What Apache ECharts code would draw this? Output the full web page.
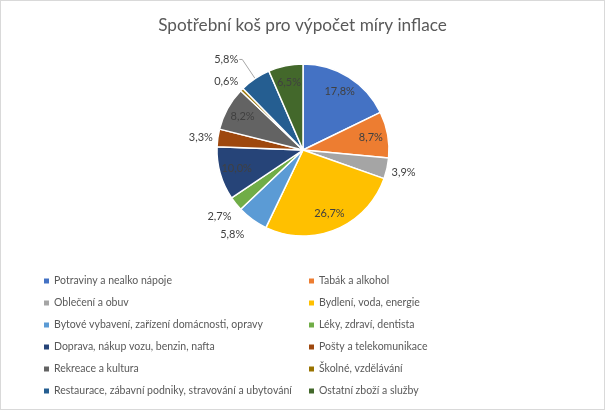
<!DOCTYPE html>
<html>
<head>
<meta charset="utf-8">
<script src="https://cdn.jsdelivr.net/npm/echarts@6/dist/echarts.min.js"></script>
<style>
    html, body { margin: 0; padding: 0; background: #fff; }
    #chart { width: 605px; height: 410px; box-sizing: border-box; border: 1px solid #d9d9d9; }
</style>
</head>
<body>
<div id="chart"></div>
<script>
// kategorie spotřebního koše
var categories = [
    'Potraviny a nealko nápoje',
    'Tabák a alkohol',
    'Oblečení a obuv',
    'Bydlení, voda, energie',
    'Bytové vybavení, zařízení domácnosti, opravy',
    'Léky, zdraví, dentista',
    'Doprava, nákup vozu, benzin, nafta',
    'Pošty a telekomunikace',
    'Rekreace a kultura',
    'Školné, vzdělávání',
    'Restaurace, zábavní podniky, stravování a ubytování',
    'Ostatní zboží a služby'
];
// podíly v %
var shares = [17.8, 8.7, 3.9, 26.7, 5.8, 2.7, 10.0, 3.3, 8.2, 0.6, 5.8, 6.5];

var colors = ['#4472C4', '#ED7D31', '#A5A5A5', '#FFC000', '#5B9BD5', '#70AD47',
    '#264478', '#9E480E', '#636363', '#997300', '#255E91', '#43682B'];

// popisky mimo výseč: index -> [length, length2, distance, show line]
var outsideLabels = {
    2: [19, 0, -14, false],
    4: [19, 0, -3, false],
    5: [21, 0, -12, false],
    7: [1, 0, 4, false],
    9: [12, 0, -5, false],
    10: [23, 3, 1, true]
};

var labelFont = {color: '#404040', fontSize: 11, fontFamily: 'Lato'};

function extend(a, b) {
    for (var k in b) a[k] = b[k];
    return a;
}

function fmt(p) {
    return p.value.toFixed(1).replace('.', ',') + '%';
}

var mainData = categories.map(function (name, i) {
    var item = {name: name, value: shares[i], itemStyle: {color: colors[i]}};
    var o = outsideLabels[i];
    if (o) {
        item.label = extend({show: true, position: 'outside', distanceToLabelLine: o[2], formatter: fmt}, labelFont);
        item.labelLine = {show: o[3], length: o[0], length2: o[1], smooth: false,
            lineStyle: {color: '#a6a6a6', width: 1}};
    }
    return item;
});

// průhledný prstenec jen kvůli popiskům uvnitř výsečí
var innerData = categories.map(function (name, i) {
    return {
        name: name, value: shares[i],
        label: extend({show: !outsideLabels[i], position: 'inside', formatter: fmt}, labelFont)
    };
});

var legendBase = {
    orient: 'vertical',
    top: 273,
    padding: 0,
    icon: 'rect',
    itemWidth: 5,
    itemHeight: 5,
    itemGap: 8,
    selectedMode: false,
    itemStyle: {borderWidth: 0},
    textStyle: {color: '#595959', fontSize: 10.5, fontFamily: 'Lato', lineHeight: 14}
};

var option = {
    animation: false,
    title: {
        text: 'Spotřební koš pro výpočet míry inflace',
        left: 'center',
        top: 11,
        textStyle: {color: '#595959', fontSize: 17.2, fontWeight: 'normal', fontFamily: 'Lato'}
    },
    legend: [
        extend(extend({}, legendBase), {left: 43, data: categories.filter(function (c, i) { return i % 2 === 0; })}),
        extend(extend({}, legendBase), {left: 308, data: categories.filter(function (c, i) { return i % 2 === 1; })})
    ],
    series: [{
        type: 'pie',
        center: [302, 149],
        radius: 86,
        startAngle: 90,
        clockwise: true,
        avoidLabelOverlap: false,
        silent: true,
        itemStyle: {borderColor: '#fff', borderWidth: 1.5},
        label: {show: false},
        labelLine: {show: false},
        data: mainData
    }, {
        type: 'pie',
        center: [302, 149],
        radius: [46, 86],
        startAngle: 90,
        clockwise: true,
        avoidLabelOverlap: false,
        silent: true,
        legendHoverLink: false,
        itemStyle: {color: 'rgba(0,0,0,0)', borderWidth: 0},
        labelLine: {show: false},
        data: innerData
    }]
};

try {
    var myChart = echarts.init(document.getElementById('chart'));
    myChart.setOption(option);
} catch (e) {
}
</script>
</body>
</html>
